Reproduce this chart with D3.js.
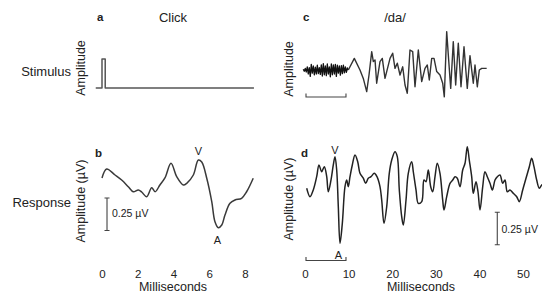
<!DOCTYPE html>
<html>
<head>
<meta charset="utf-8">
<script src="https://cdn.jsdelivr.net/npm/d3@7"></script>
<style>
  body { margin: 0; background: #fff; }
  svg text { font-family: 'Liberation Sans', Arial, Helvetica, sans-serif; fill: #222; }
</style>
</head>
<body>
<svg id="chart" width="542" height="300"></svg>
<script>
// click stimulus: [ms, relative amplitude]
const clickStimulus = [[-0.35, 0], [0, 0], [0, 1], [0.18, 1], [0.18, 0], [8.5, 0]];

// click response (ABR): [ms, µV]
const clickResponse = [
  [0.0, 0.054], [0.26, 0.123], [0.73, 0.077], [1.10, 0.038], [1.47, -0.013], [1.75, -0.052],
  [2.03, -0.038], [2.22, -0.054], [2.50, -0.090], [2.78, -0.021], [2.97, -0.052], [3.24, 0],
  [3.52, 0.054], [3.86, 0.167], [4.18, 0.064], [4.55, 0], [4.74, 0.013], [5.11, 0.077],
  [5.39, 0.192], [5.58, 0.177], [5.86, 0.052], [6.14, -0.128], [6.32, -0.282], [6.51, -0.328],
  [6.70, -0.308], [6.88, -0.231], [7.16, -0.141], [7.44, -0.115], [7.81, -0.102], [8.09, -0.052],
  [8.46, 0.052],
];

// /da/ stimulus, noise burst (onset) then the voiced part: [ms, relative amplitude]
const daBurst = [
  [-0.4, 0.02], [-0.17, -0.03], [0.06, 0.04], [0.29, -0.05], [0.52, 0.08], [0.75, -0.1],
  [0.98, 0.06], [1.21, -0.16], [1.44, 0.14], [1.67, -0.08], [1.9, 0.1], [2.13, -0.12],
  [2.36, 0.07], [2.59, -0.1], [2.82, 0.12], [3.05, -0.09], [3.28, 0.06], [3.51, -0.11],
  [3.74, 0.13], [3.97, -0.15], [4.2, 0.16], [4.43, -0.12], [4.66, 0.1], [4.89, -0.14],
  [5.12, 0.15], [5.35, -0.1], [5.58, 0.08], [5.81, -0.17], [6.04, 0.15], [6.27, -0.12],
  [6.5, 0.13], [6.73, -0.1], [6.96, 0.14], [7.19, -0.16], [7.42, 0.12], [7.65, -0.08],
  [7.88, 0.1], [8.11, -0.13], [8.34, 0.11], [8.57, -0.09], [8.8, 0.12], [9.03, -0.07],
  [9.26, 0.08], [9.49, -0.06], [9.72, 0.05], [9.93, 0],
];
const daVoiced = [
  [9.93, 0], [11.31, 0.29], [12.61, 0], [13.37, -0.21], [14.15, -0.54], [14.68, -0.125],
  [15.30, 0.46], [15.67, 0.21], [16.06, 0.25], [16.44, -0.33], [17.2, 0.21], [17.73, 0.29],
  [18.35, -0.21], [19.5, 0.29], [20.11, 0.42], [20.64, 0.04], [21.17, 0.17], [21.79, -0.125],
  [22.41, 0.08], [22.94, -0.375], [23.46, -0.58], [24.08, 0.5], [24.70, 0.46], [25.23, -0.42],
  [25.99, 0.5], [26.77, -0.29], [27.52, 0.04], [28.05, 0.125], [28.51, -0.25], [29.06, 0.29],
  [29.59, 0.29], [30.21, -0.04], [30.96, -0.125], [31.58, -0.33], [31.95, -0.67], [32.5, 0.96],
  [32.87, 0.375], [33.42, -0.46], [34.01, 0.71], [34.56, -0.375], [35.16, 0.67], [35.78, -0.42],
  [36.47, 0.58], [37.22, -0.46], [37.84, 0.36], [38.6, -0.33], [38.99, 0.125], [39.52, -0.42],
  [39.98, 0], [40.53, 0.04], [41.67, 0.04],
];

// /da/ response (FFR): [ms, µV]
const daResponse = [
  [0.39, -0.025], [1.15, -0.09], [1.90, -0.038], [2.68, 0.064], [3.21, 0.154], [3.83, 0.102],
  [4.43, 0.141], [4.98, 0.064], [5.34, -0.052], [5.96, 0.038], [6.49, 0.154], [6.88, 0.218],
  [7.27, 0.115], [7.64, -0.167], [8.03, -0.448], [8.56, -0.295], [9.17, -0.013], [9.56, 0.038],
  [9.93, -0.013], [10.32, 0.064], [10.85, 0.154], [11.47, 0.231], [12.09, 0.179], [12.61, 0.09],
  [13.37, 0.052], [13.92, 0.013], [14.52, 0.052], [15.14, 0.064], [15.89, 0.09], [16.51, 0.064],
  [17.2, -0.013], [17.59, -0.115], [18.12, -0.295], [18.74, -0.167], [19.33, 0.09], [19.89, 0.192],
  [20.64, 0.256], [21.17, 0.218], [21.63, -0.038], [22.18, -0.244], [22.55, -0.308], [23.17, -0.115],
  [23.69, 0.09], [24.47, 0.179], [24.84, 0.102], [25.46, -0.038], [25.99, -0.141], [26.77, -0.128],
  [27.29, 0.038], [27.75, 0.025], [28.28, 0.115], [28.83, -0.013], [29.29, -0.052], [29.82, 0.064],
  [30.34, 0.167], [30.96, 0.09], [31.58, -0.115], [31.88, -0.192], [32.5, -0.09], [33.26, 0.013],
  [33.88, 0.038], [34.4, 0.064], [34.93, 0.052], [35.55, -0.013], [36.17, 0.115], [36.7, 0.167],
  [37.22, 0.295], [37.68, 0.192], [38.23, 0.064], [38.6, -0.064], [39.22, 0.025], [39.68, -0.052],
  [40.14, -0.192], [40.76, -0.013], [41.28, 0.102], [41.81, 0.064], [42.43, 0.013], [42.97, -0.038],
  [43.58, 0.038], [44.11, 0.064], [44.72, 0.077], [45.34, 0.013], [45.87, 0.038], [46.4, -0.052],
  [47.02, -0.038], [47.78, -0.064], [48.56, -0.09], [49.15, -0.128], [49.93, -0.038], [50.69, 0.052],
  [51.45, 0.141], [51.99, 0.205], [52.52, 0.141], [53.14, 0.038], [53.74, -0.025], [54.29, 0],
  [55, 0.02],
];

const clickTicks = [0, 2, 4, 6, 8];
const daTicks = [0, 10, 20, 30, 40, 50];

const svg = d3.select('#chart');

const xClick = d3.scaleLinear().domain([0, 8]).range([102, 245]);
const xDa = d3.scaleLinear().domain([0, 50]).range([305, 523]);
const yClick = d3.scaleLinear().domain([0, 1]).range([88, 59]);
const yDa = d3.scaleLinear().domain([-1, 1]).range([110, 30]);
const yResp = d3.scaleLinear().domain([-0.5, 0.5]).range([250, 120]);

/**
 * Draw one trace
 */
function trace(data, x, y, opts = {}) {
  const line = d3.line()
    .x((d) => x(d[0]))
    .y((d) => y(d[1]))
    .curve(opts.curve || d3.curveLinear);
  svg.append('path')
    .datum(data)
    .attr('d', line)
    .attr('fill', 'none')
    .attr('stroke', opts.color || '#333')
    .attr('stroke-width', opts.width || 1.5)
    .attr('stroke-linejoin', 'round');
}

function label(txt, x, y, opts = {}) {
  return svg.append('text')
    .attr('x', x)
    .attr('y', y)
    .attr('text-anchor', opts.anchor || 'start')
    .style('font-size', `${opts.size || 12.5}px`)
    .style('font-weight', opts.bold ? 'bold' : 'normal')
    .text(txt);
}

function yLabel(txt, x, y) {
  svg.append('text')
    .attr('transform', `translate(${x},${y}) rotate(-90)`)
    .attr('text-anchor', 'middle')
    .style('font-size', '12.5px')
    .text(txt);
}

// horizontal 10 ms bar with upturned ends
function timeBar(y) {
  const x0 = xDa(0);
  const x1 = xDa(9.4);
  svg.append('path')
    .attr('d', `M${x0 + 1},${y - 3.5}V${y}H${x1}V${y - 3.5}`)
    .attr('fill', 'none')
    .attr('stroke', '#444')
    .attr('stroke-width', 1.1);
}

// vertical 0.25 µV bar with caps
function voltBar(x, v0) {
  const ya = yResp(v0);
  const yb = yResp(v0 + 0.25);
  svg.append('path')
    .attr('d', `M${x - 2.5},${ya}H${x + 2.5}M${x},${ya}V${yb}M${x - 2.5},${yb}H${x + 2.5}`)
    .attr('fill', 'none')
    .attr('stroke', '#444')
    .attr('stroke-width', 1.1);
}

function xAxis(scale, ticks, cx) {
  svg.append('g')
    .attr('transform', 'translate(0,270)')
    .call(d3.axisBottom(scale).tickValues(ticks).tickSize(0).tickPadding(0))
    .call((g) => g.select('.domain').remove())
    .call((g) => g.selectAll('text')
      .style('font-size', '11.5px')
      .style('font-family', "'Liberation Sans', Arial, sans-serif")
      .attr('fill', '#222'));
  label('Milliseconds', cx, 291, { anchor: 'middle' });
}

// traces
trace(clickStimulus, xClick, yClick, { color: '#555', width: 1.5 });
trace(clickResponse, xClick, yResp, { curve: d3.curveCatmullRom, color: '#3a3a3a' });
trace(daBurst, xDa, yDa, { color: '#111', width: 1.3 });
trace(daVoiced, xDa, yDa, { color: '#333', width: 1.4 });
trace(daResponse, xDa, yResp, { curve: d3.curveCatmullRom.alpha(0.5), color: '#222', width: 1.5 });

// scale bars
timeBar(97);
timeBar(260.5);
voltBar(xClick(0.28), -0.35);
voltBar(xDa(44.1), -0.46);

// axes
xAxis(xClick, clickTicks, 173);
xAxis(xDa, daTicks, 421);

// titles and panel letters
label('a', 97, 21, { bold: true, size: 11.5 });
label('Click', 173, 21.5, { anchor: 'middle', size: 13 });
label('c', 303, 21, { bold: true, size: 11.5 });
label('/da/', 395, 21.5, { anchor: 'middle', size: 13 });
label('b', 95, 157, { bold: true, size: 11.5 });
label('d', 301, 157, { bold: true, size: 11.5 });

label('Stimulus', 71, 75.5, { anchor: 'end', size: 13 });
label('Response', 71, 207, { anchor: 'end', size: 13 });

yLabel('Amplitude', 84.5, 68);
yLabel('Amplitude', 292.5, 69);
yLabel('Amplitude (µV)', 84.5, 201);
yLabel('Amplitude (µV)', 292.5, 199);

// wave labels
label('V', xClick(5.39), 154.5, { anchor: 'middle', size: 11 });
label('A', xClick(6.51) - 1, 244, { anchor: 'middle', size: 11 });
label('V', xDa(6.88), 153.5, { anchor: 'middle', size: 11 });
label('A', xDa(8.03) - 1.5, 258.5, { anchor: 'middle', size: 11 });

label('0.25 µV', 112, 216.5, { size: 10.5 });
label('0.25 µV', 501.5, 232.5, { size: 10.5 });
</script>
</body>
</html>
